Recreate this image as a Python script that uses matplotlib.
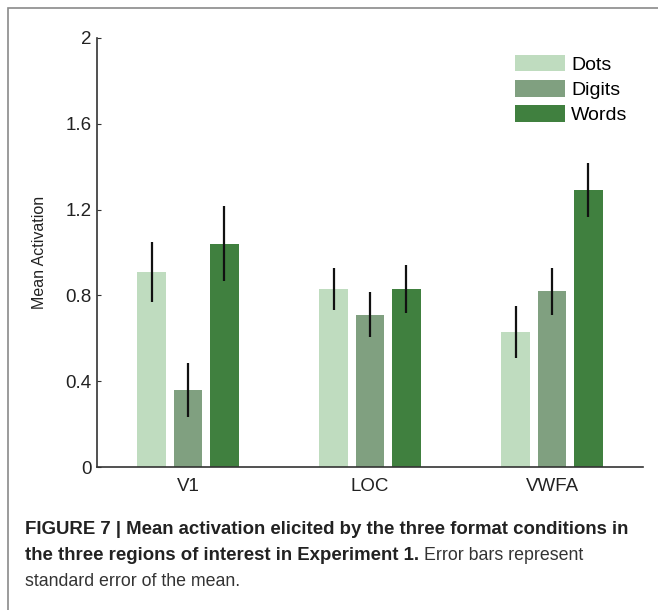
import matplotlib.pyplot as plt
from matplotlib.patches import Rectangle
import numpy as np

plt.rcParams["font.family"] = ["Liberation Sans", "DejaVu Sans"]

regions = ["V1", "LOC", "VWFA"]
conditions = ["Dots", "Digits", "Words"]
colors = ["#bfdcbf", "#80a080", "#40803f"]

dots = [0.91, 0.83, 0.63]
digits = [0.36, 0.71, 0.82]
words = [1.04, 0.83, 1.29]
dots_err = [0.14, 0.10, 0.12]
digits_err = [0.125, 0.105, 0.11]
words_err = [0.175, 0.11, 0.125]

means = [dots, digits, words]
errs = [dots_err, digits_err, words_err]

fig = plt.figure(figsize=(6.58, 6.10), dpi=100)
W, H = 658, 610
ax = fig.add_axes([97 / W, (610 - 467) / H, (643 - 97) / W, (467 - 38) / H])

x = np.arange(1, 4)
for i in range(3):
    ax.bar(x + (i - 1) * 0.2, means[i], width=0.155, color=colors[i], label=conditions[i])
for i in range(3):
    ax.errorbar(x + (i - 1) * 0.2, means[i], yerr=errs[i], fmt="none", ecolor="#111111",
                elinewidth=1.6, capsize=0)

ax.set_xlim(0.5, 3.5)
ax.set_ylim(0, 2)
ax.set_yticks([0, 0.4, 0.8, 1.2, 1.6, 2])
ax.set_yticklabels(["0", "0.4", "0.8", "1.2", "1.6", "2"])
ax.set_xticks(x)
ax.set_xticklabels(regions)
ax.tick_params(axis="y", direction="in", length=3, labelsize=13.5, pad=4, colors="#333333", labelcolor="#222222")
ax.tick_params(axis="x", length=0, labelsize=13.5, pad=8, labelcolor="#222222")
ax.spines["top"].set_visible(False)
ax.spines["right"].set_visible(False)
for s in ["left", "bottom"]:
    ax.spines[s].set_color("#333333")
    ax.spines[s].set_linewidth(1.2)
ax.set_ylabel("Mean Activation", fontsize=11.5, color="#222222")
ax.yaxis.set_label_coords((47 - 97) / 546, 0.5)

ax.legend(loc="upper left", bbox_to_anchor=((505 - 97) / 546, (467 - 45) / 429), frameon=False,
          fontsize=14, borderpad=0, handlelength=2.6, handleheight=0.93, handletextpad=0.3,
          labelspacing=0.33)

# frame around figure
fig.patches.append(Rectangle((8 / W, -0.05), 1.1, (H - 8) / H + 0.05, transform=fig.transFigure,
                             fill=False, edgecolor="#8a8a8a", linewidth=1.2))

cap_size = 13.4
fig.text(25 / W, 1 - 530 / H, "FIGURE 7 | Mean activation elicited by the three format conditions in",
         fontsize=cap_size, fontweight="bold", va="center", color="#222222")
t = fig.text(25 / W, 1 - 556 / H, "the three regions of interest in Experiment 1.",
             fontsize=cap_size, fontweight="bold", va="center", color="#222222")
fig.canvas.draw()
bb = t.get_window_extent()
fig.text((bb.x1 + 5) / W, 1 - 556 / H, "Error bars represent", fontsize=12.8,
         va="center", color="#333333")
fig.text(25 / W, 1 - 581 / H, "standard error of the mean.", fontsize=12.8,
         va="center", color="#333333")

fig.savefig("out.png", dpi=100)
